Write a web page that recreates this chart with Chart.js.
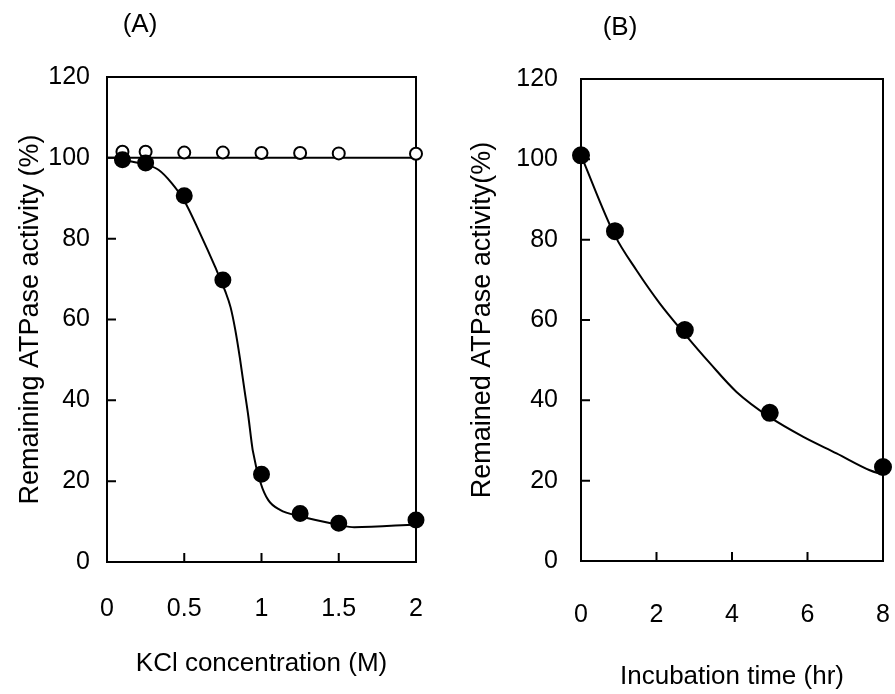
<!DOCTYPE html>
<html>
<head>
<meta charset="utf-8">
<script src="https://cdn.jsdelivr.net/npm/chart.js@4.4.1/dist/chart.umd.min.js"></script>
<style>
  html, body { margin: 0; padding: 0; background: #fff; }
  #wrap { position: relative; width: 895px; height: 694px; }
  canvas { position: absolute; top: 0; }
  #chartA { left: 0; }
  #chartB { left: 450px; }
</style>
</head>
<body>
<div id="wrap">
  <canvas id="chartA" width="450" height="694"></canvas>
  <canvas id="chartB" width="445" height="694"></canvas>
</div>
<script>
// Panel A: KCl concentration
const kclConc = [0.1, 0.25, 0.5, 0.75, 1.0, 1.25, 1.5, 2.0];
const kclActivity = [99.5, 98.7, 90.6, 69.8, 21.7, 12.0, 9.6, 10.4];
const controlActivity = [101.5, 101.5, 101.3, 101.3, 101.2, 101.2, 101.1, 101.0];
const controlLineX = [0, 2];
const controlLineY = [100, 100];
// fitted curve
const kclFitX = [0.1, 0.25, 0.335, 0.42, 0.5, 0.6, 0.7, 0.765, 0.8, 0.83, 0.86, 0.89, 0.915, 0.943, 0.995, 1.044, 1.12, 1.25, 1.5, 1.6, 2.0];
const kclFitY = [99.5, 98.3, 97.0, 93.7, 89.4, 81.5, 73.0, 67.0, 63.0, 57.5, 50.5, 42.5, 36.0, 27.7, 19.5, 15.3, 12.9, 11.3, 9.2, 8.6, 9.3];
const kclTicks = [0, 0.5, 1, 1.5, 2];

// Panel B: incubation time
const timeHr = [0, 0.9, 2.75, 5, 8];
const timeActivity = [101, 82.1, 57.5, 36.9, 23.4];
const timeFitX = [0, 0.9, 1.47, 2.09, 2.75, 3.42, 4.12, 5.0, 5.89, 6.77, 7.65, 8];
const timeFitY = [101, 81, 72.4, 64.1, 56.5, 49.2, 42.1, 35.8, 30.9, 26.8, 22.6, 21.5];
const timeTicks = [0, 2, 4, 6, 8];

const activityTicks = [0, 20, 40, 60, 80, 100, 120];

const FONT = '"Liberation Sans", Arial, sans-serif';
const tickFont = { family: FONT, size: 25 };

const pts = (xs, ys) => xs.map((x, i) => ({ x: x, y: ys[i] }));

// box frame, inward ticks and panel letter
const frameTicks = {
  id: 'frameTicks',
  beforeDatasetsDraw(chart, args, opts) {
    const { ctx, chartArea: a, scales } = chart;
    ctx.save();
    ctx.strokeStyle = '#000';
    ctx.lineWidth = 2;
    ctx.strokeRect(a.left, a.top, a.right - a.left, a.bottom - a.top);
    ctx.beginPath();
    opts.xTicks.slice(1, -1).forEach(v => {
      const px = scales.x.getPixelForValue(v);
      ctx.moveTo(px, a.bottom);
      ctx.lineTo(px, a.bottom - 9);
    });
    opts.yTicks.slice(1, -1).forEach(v => {
      const py = scales.y.getPixelForValue(v);
      ctx.moveTo(a.left, py);
      ctx.lineTo(a.left + 9, py);
    });
    ctx.stroke();
    ctx.fillStyle = '#000';
    ctx.font = '26px ' + FONT;
    ctx.textAlign = 'center';
    ctx.textBaseline = 'middle';
    ctx.fillText(opts.label, opts.labelX, opts.labelY);
    ctx.restore();
  }
};

function makeChart(id, p) {
  new Chart(document.getElementById(id), {
    type: 'line',
    data: { datasets: p.datasets },
    options: {
      responsive: false,
      animation: false,
      events: [],
      layout: { padding: { left: 0, top: p.top, right: p.right, bottom: 0 } },
      plugins: {
        legend: { display: false },
        tooltip: { enabled: false },
        frameTicks: p.frame
      },
      scales: {
        x: {
          type: 'linear', min: p.xTicks[0], max: p.xTicks[p.xTicks.length - 1],
          afterBuildTicks: s => { s.ticks = p.xTicks.map(v => ({ value: v })); },
          afterFit: s => { s.height = p.xHeight; s.paddingLeft = 0; s.paddingRight = 0; },
          grid: { display: false, drawTicks: false },
          border: { display: false },
          ticks: { color: '#000', font: tickFont, padding: p.xPad, maxRotation: 0, autoSkip: false,
                   callback: v => String(v) },
          title: { display: true, text: p.xTitle, color: '#000', font: { family: FONT, size: 26 },
                   padding: { top: 0, bottom: p.xTitlePad } }
        },
        y: {
          type: 'linear', min: 0, max: 120,
          afterBuildTicks: s => { s.ticks = activityTicks.map(v => ({ value: v })); },
          afterFit: s => { s.width = p.yWidth; },
          grid: { display: false, drawTicks: false },
          border: { display: false },
          ticks: { color: '#000', font: tickFont, padding: p.yPad },
          title: { display: true, text: p.yTitle, color: '#000', font: { family: FONT, size: 27 },
                   padding: { top: p.yTitlePad, bottom: 0 } }
        }
      }
    },
    plugins: [frameTicks]
  });
}

const curve = data => ({
  data: data, showLine: true, borderColor: '#000', borderWidth: 2,
  pointRadius: 0, cubicInterpolationMode: 'monotone', clip: false, fill: false
});
const dots = (data, r, fillColor) => ({
  data: data, showLine: false, pointRadius: r, pointBackgroundColor: fillColor,
  pointBorderColor: '#000', pointBorderWidth: 2, clip: false
});

makeChart('chartA', {
  top: 77, right: 34, xHeight: 132, yWidth: 107,
  xPad: 32, yPad: 17, xTitlePad: 15, yTitlePad: 14,
  xTicks: kclTicks,
  xTitle: 'KCl concentration (M)',
  yTitle: 'Remaining ATPase activity (%)',
  frame: { xTicks: kclTicks, yTicks: activityTicks, label: '(A)', labelX: 140, labelY: 25 },
  datasets: [
    dots(pts(kclConc, kclActivity), 7.5, '#000'),
    dots(pts(kclConc, controlActivity), 6, '#fff'),
    curve(pts(kclFitX, kclFitY)),
    curve(pts(controlLineX, controlLineY))
  ]
});

makeChart('chartB', {
  top: 79, right: 12, xHeight: 133, yWidth: 131,
  xPad: 39, yPad: 23, xTitlePad: 2, yTitlePad: 16,
  xTicks: timeTicks,
  xTitle: 'Incubation time (hr)',
  yTitle: 'Remained ATPase activity(%)',
  frame: { xTicks: timeTicks, yTicks: activityTicks, label: '(B)', labelX: 170, labelY: 28 },
  datasets: [
    dots(pts(timeHr, timeActivity), 8, '#000'),
    curve(pts(timeFitX, timeFitY))
  ]
});
</script>
</body>
</html>
